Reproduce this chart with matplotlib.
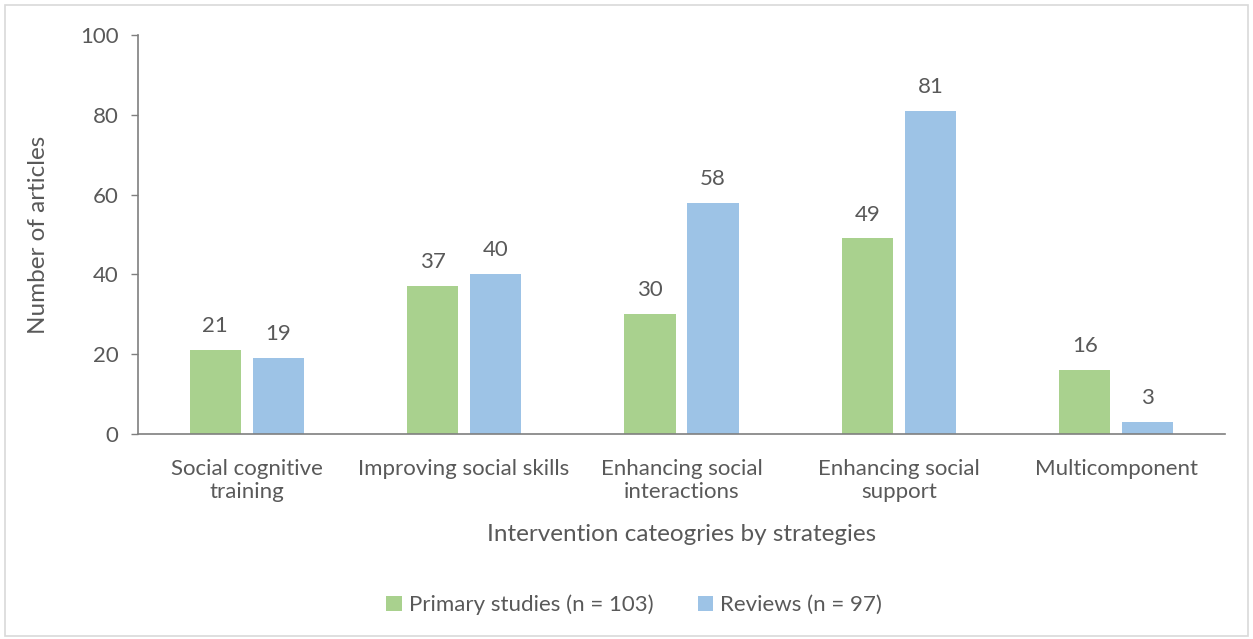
import numpy as np
import matplotlib
matplotlib.use("Agg")
import matplotlib.pyplot as plt
from matplotlib.patches import Rectangle

categories = ["Social cognitive\ntraining", "Improving social skills",
              "Enhancing social\ninteractions", "Enhancing social\nsupport",
              "Multicomponent"]
primary = [21, 37, 30, 49, 16]
reviews = [19, 40, 58, 81, 3]
series_labels = ["Primary studies (n = 103)", "Reviews (n = 97)"]

GREEN = "#A9D18E"
BLUE = "#9DC3E6"
TEXT = "#595959"

plt.rcParams["font.family"] = ["Lato", "DejaVu Sans"]

fig = plt.figure(figsize=(12.53, 6.39), dpi=100)
ax = fig.add_axes([138 / 1253, 1 - 434 / 639, 1087 / 1253, 399 / 639])

# outer frame around the whole figure
fig.patches.append(Rectangle((5 / 1253, 3 / 639), 1243 / 1253, 631 / 639,
                             transform=fig.transFigure, fill=False,
                             edgecolor="#D9D9D9", linewidth=1.2))

x = np.arange(len(categories))
w = 0.235
off = 0.145
b1 = ax.bar(x - off, primary, w, color=GREEN, label=series_labels[0])
b2 = ax.bar(x + off, reviews, w, color=BLUE, label=series_labels[1])

for bars, vals in ((b1, primary), (b2, reviews)):
    for rect, v in zip(bars, vals):
        ax.text(rect.get_x() + rect.get_width() / 2, v + 3.5, str(v),
                ha="center", va="bottom", fontsize=16, color=TEXT)

ax.set_xlim(-0.5, len(categories) - 0.5)
ax.set_ylim(0, 100)
ax.set_yticks(range(0, 101, 20))
ax.set_xticks(x)
ax.set_xticklabels(categories, fontsize=16, color=TEXT, linespacing=1.2)
ax.tick_params(axis="x", length=0, pad=18)
ax.tick_params(axis="y", length=5, width=1, color="#7F7F7F",
               labelsize=16, labelcolor=TEXT, pad=9)

for s in ("top", "right"):
    ax.spines[s].set_visible(False)
for s in ("left", "bottom"):
    ax.spines[s].set_color("#7F7F7F")
    ax.spines[s].set_linewidth(1.2)

ax.set_ylabel("Number of articles", fontsize=17.5, color=TEXT, labelpad=22)
ax.set_xlabel("Intervention cateogries by strategies", fontsize=17.5,
              color=TEXT, labelpad=16)

leg = fig.legend(handles=[b1, b2], loc="center", ncol=2,
                 bbox_to_anchor=(634 / 1253, 1 - 605 / 639), frameon=False,
                 fontsize=16, handlelength=0.7, handleheight=0.7,
                 handletextpad=0.3, columnspacing=2.0)
for t in leg.get_texts():
    t.set_color(TEXT)

fig.savefig("out.png", dpi=100)
